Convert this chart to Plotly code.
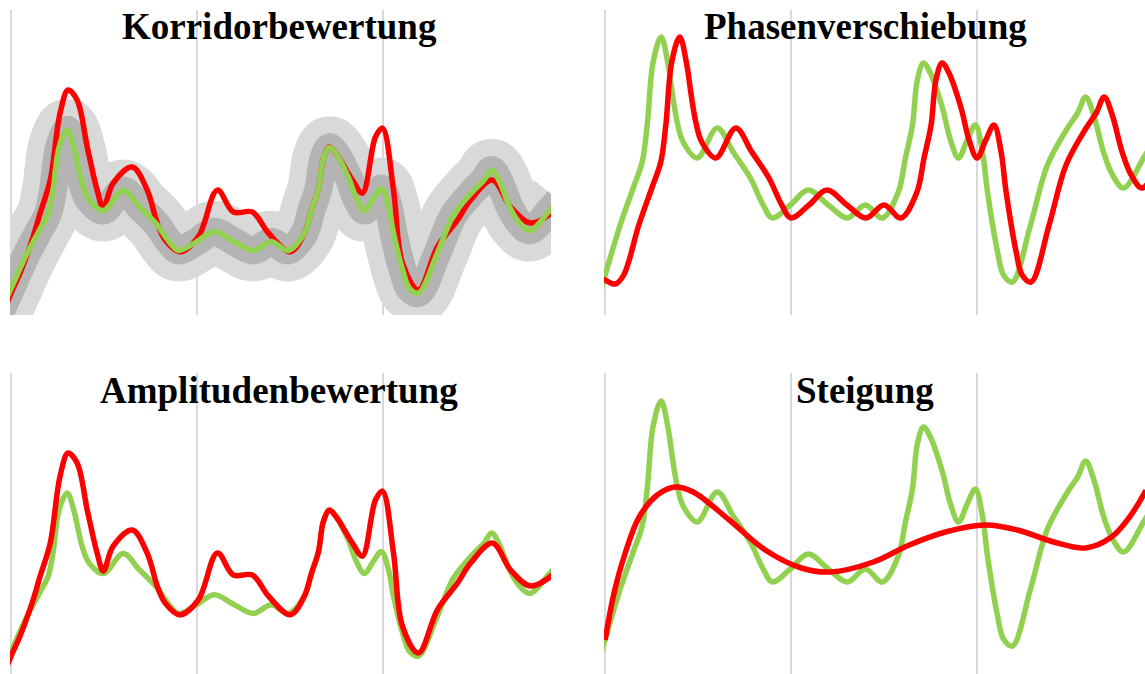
import plotly.graph_objects as go
from plotly.subplots import make_subplots

# Reference signal (green), sampled at irregular time stamps
ref_t = [-0.8, 0, 0.81, 1.51, 1.99, 2.26, 2.58, 3.01, 3.39, 3.60, 3.87, 4.19, 4.95,
         6.02, 6.88, 7.80, 8.49, 8.98, 9.95, 10.91, 11.99, 13.01, 13.98, 14.89,
         15.75, 16.13, 16.51, 16.77, 17.10, 17.47, 18.12, 18.55, 18.98, 19.45,
         19.89, 20.27, 20.54, 21.08, 21.40, 21.88, 22.85, 23.76, 24.84, 25.38,
         25.81, 26.24, 26.77, 27.26, 27.85, 28.92, 29.4]
ref_v = [-1.40, 0.60, 2.60, 4.08, 5.12, 6.60, 9.12, 10.12, 9.00, 7.92, 6.72, 5.92, 5.28,
         6.48, 5.52, 4.48, 3.40, 2.88, 3.40, 4.00, 3.40, 2.88, 3.40, 2.88,
         3.92, 5.28, 6.60, 8.40, 9.08, 8.68, 7.28, 6.00, 5.28, 6.00,
         6.60, 5.52, 3.92, 1.52, 0.60, 0.32, 2.60, 5.00, 6.48, 7.08,
         7.72, 7.00, 5.52, 4.60, 4.08, 5.28, 5.9]

# Test signal with amplitude deviations (red, left column)
amp_t = [-0.6, 0, 0.48, 1.18, 1.56, 2.10, 2.63, 3.06, 3.55, 4.09, 4.62, 4.95, 5.48,
         6.51, 7.31, 7.85, 8.28, 9.05, 10.05, 11.08, 11.94, 12.96, 13.82, 15.0,
         15.75, 16.13, 16.51, 16.77, 17.10, 17.47, 18.33, 18.87, 19.57, 19.95,
         20.54, 21.02, 21.88, 22.90, 23.98, 24.68, 25.86, 26.83, 27.90, 29.09]
amp_v = [-1.40, 0.32, 1.52, 3.69, 5.13, 7.11, 11.14, 12.53, 11.92, 9.10, 6.51, 5.43, 6.93,
         7.90, 6.51, 4.53, 3.50, 2.80, 3.69, 6.51, 5.19, 5.19, 3.93, 2.80,
         3.92, 5.28, 6.60, 8.40, 9.10, 8.68, 7.11, 6.33, 9.70, 10.24,
         6.51, 2.12, 0.50, 3.10, 4.71, 5.91, 7.11, 5.49, 4.53, 5.19]

# Phase-shifted test signal (red, top right): reference delayed by PHASE_SHIFT
PHASE_SHIFT = 1.0
phase_lead_t = [-0.5, 0, 0.55]
phase_lead_v = [0.60, 0.40, 0.24]

# Smooth trend signal (red, bottom right)
slope_t = [0, 0.48, 1.08, 1.83, 2.80, 3.76, 4.73, 6.67, 8.60, 10.54, 12.10,
           14.41, 16.34, 18.28, 20.43, 22.15, 24.09, 25.81, 27.20, 28.17, 28.82, 29.05]
slope_v = [0.56, 2.44, 4.04, 5.48, 6.36, 6.68, 6.48, 5.36, 4.16, 3.44, 3.28,
           3.68, 4.36, 4.88, 5.16, 4.96, 4.48, 4.24, 4.68, 5.48, 6.24, 6.55]

titles = ["Korridorbewertung", "Phasenverschiebung",
          "Amplitudenbewertung", "Steigung"]

GREEN = "#92d050"
RED = "#ff0000"
BAND_OUTER = "#d9d9d9"
BAND_INNER = "#b4b4b4"
LW = 5.5

W, H = 1145, 674
fig = make_subplots(rows=2, cols=2)


def line(t, v, color, width):
    return go.Scatter(x=t, y=v, mode="lines",
                      line=dict(color=color, width=width, shape="spline", smoothing=1),
                      hoverinfo="skip", showlegend=False)


# Korridorbewertung: tolerance corridor around the reference
fig.add_trace(line(ref_t, ref_v, BAND_OUTER, 62), 1, 1)
fig.add_trace(line(ref_t, ref_v, BAND_INNER, 28), 1, 1)
fig.add_trace(line(amp_t, amp_v, RED, LW), 1, 1)
fig.add_trace(line(ref_t, ref_v, GREEN, LW), 1, 1)

# Phasenverschiebung
phase_t = phase_lead_t + [t + PHASE_SHIFT for t in ref_t[1:]]
phase_v = phase_lead_v + ref_v[1:]
fig.add_trace(line(ref_t, ref_v, GREEN, LW), 1, 2)
fig.add_trace(line(phase_t, phase_v, RED, LW), 1, 2)

# Amplitudenbewertung
fig.add_trace(line(ref_t, ref_v, GREEN, LW), 2, 1)
fig.add_trace(line(amp_t, amp_v, RED, LW), 2, 1)

# Steigung
fig.add_trace(line(ref_t, ref_v, GREEN, LW), 2, 2)
fig.add_trace(line(slope_t, slope_v, RED, LW), 2, 2)

# Subplot geometry in pixels
col_px = [(11, 551), (605, 1145)]
row_px = [(10, 315), (373, 674)]
y_ranges = [[[-1.0, 17.34], [-1.0, 11.2]],
            [[-0.76, 17.34], [-0.8, 11.24]]]

for r in range(2):
    for c in range(2):
        xa = "xaxis" if (r == 0 and c == 0) else f"xaxis{r * 2 + c + 1}"
        ya = "yaxis" if (r == 0 and c == 0) else f"yaxis{r * 2 + c + 1}"
        x0, x1 = col_px[c]
        top, bot = row_px[r]
        fig.layout[xa].update(domain=[(x0 - 1) / W, x1 / W], range=[-0.06, 29],
                              tickvals=[0, 10, 20], showticklabels=False,
                              showgrid=True, gridcolor="#d9d9d9", gridwidth=2,
                              zeroline=False, showline=False, ticks="")
        fig.layout[ya].update(domain=[(H - bot) / H, (H - top) / H],
                              range=y_ranges[r][c], showticklabels=False,
                              showgrid=False, zeroline=False, showline=False, ticks="")

title_x = [279, 865]
title_y = [27, 390]
for i, text in enumerate(titles):
    r, c = divmod(i, 2)
    fig.add_annotation(text=text, xref="paper", yref="paper",
                       x=title_x[c] / W, y=(H - title_y[r]) / H,
                       xanchor="center", yanchor="middle", showarrow=False,
                       font=dict(family="Liberation Serif, Times New Roman, serif",
                                 size=37, color="black", weight="bold"))

fig.update_layout(width=W, height=H, margin=dict(l=0, r=0, t=0, b=0),
                  paper_bgcolor="white", plot_bgcolor="white", showlegend=False)

fig.write_html("out.html")
